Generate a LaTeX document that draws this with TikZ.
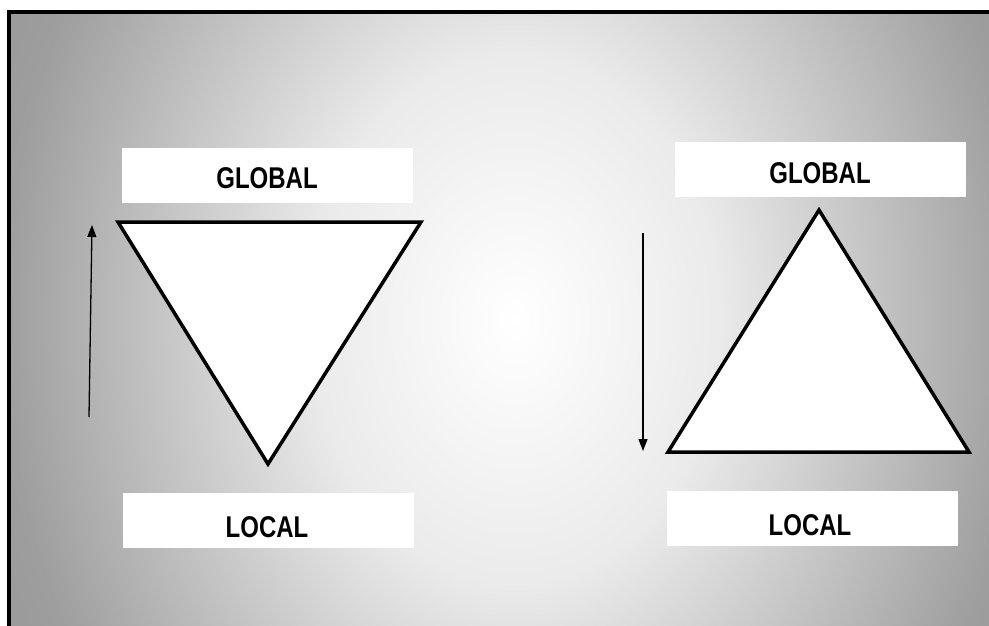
\documentclass[tikz,border=0pt]{standalone}
\usepackage{fontspec}
\setmainfont{Liberation Sans}
\usetikzlibrary{arrows.meta}
\pgfdeclareradialshading{bgshade}{\pgfpoint{0bp}{0bp}}{%
  color(0bp)=(white);
  color(10bp)=(black!8);
  color(25bp)=(black!38);
  color(32bp)=(black!43);
  color(50bp)=(black!43)}
\tikzset{
  label box/.style={fill=white, draw=none, inner sep=0pt, minimum width=291pt, minimum height=55pt},
  label text/.style={font=\bfseries\fontsize{30}{30}\selectfont, xscale=0.8, inner sep=0pt},
  tri/.style={draw=black, line width=3.5pt, fill=white, line join=miter},
  dir arrow/.style={draw=black, line width=1.3pt, -{Triangle[length=12pt,width=9pt]}},
  frame/.style={draw=black, line width=4pt}
}
\begin{document}
\begin{tikzpicture}[x=1pt,y=-1pt]
\useasboundingbox (0,0) rectangle (989,625);
\fill[white] (0,0) rectangle (989,625);
\begin{scope}
\clip (9,12) rectangle (1005,640);
\shade[shading=bgshade] (5,-340) rectangle (1025,980);
\end{scope}
\draw[frame] (9,660) -- (9,12) -- (1010,12);

% left side
\node[label box] (lg) at (267.5,175.5) {};
\node[label text] (lgt) at (267,178) {GLOBAL};
\coordinate (l1) at (118,222);
\coordinate (l2) at (421,222);
\coordinate (l3) at (268,464);
\draw[tri] (l1) -- (l2) -- (l3) -- cycle;
\node[label box] (ll) at (268.5,520.5) {};
\node[label text] (llt) at (267,527) {LOCAL};
\coordinate (la0) at (89,417);
\coordinate (la1) at (92,225);
\draw[dir arrow] (la0) -- (la1);

% right side
\node[label box] (rg) at (820.5,169) {};
\node[label text] (rgt) at (820,173) {GLOBAL};
\coordinate (r1) at (819,210);
\coordinate (r2) at (969,452);
\coordinate (r3) at (668,452);
\draw[tri] (r1) -- (r2) -- (r3) -- cycle;
\node[label box] (rl) at (812,518.5) {};
\node[label text] (rlt) at (810,525) {LOCAL};
\coordinate (ra0) at (643,233);
\coordinate (ra1) at (643,451);
\draw[dir arrow] (ra0) -- (ra1);
\end{tikzpicture}
\end{document}
